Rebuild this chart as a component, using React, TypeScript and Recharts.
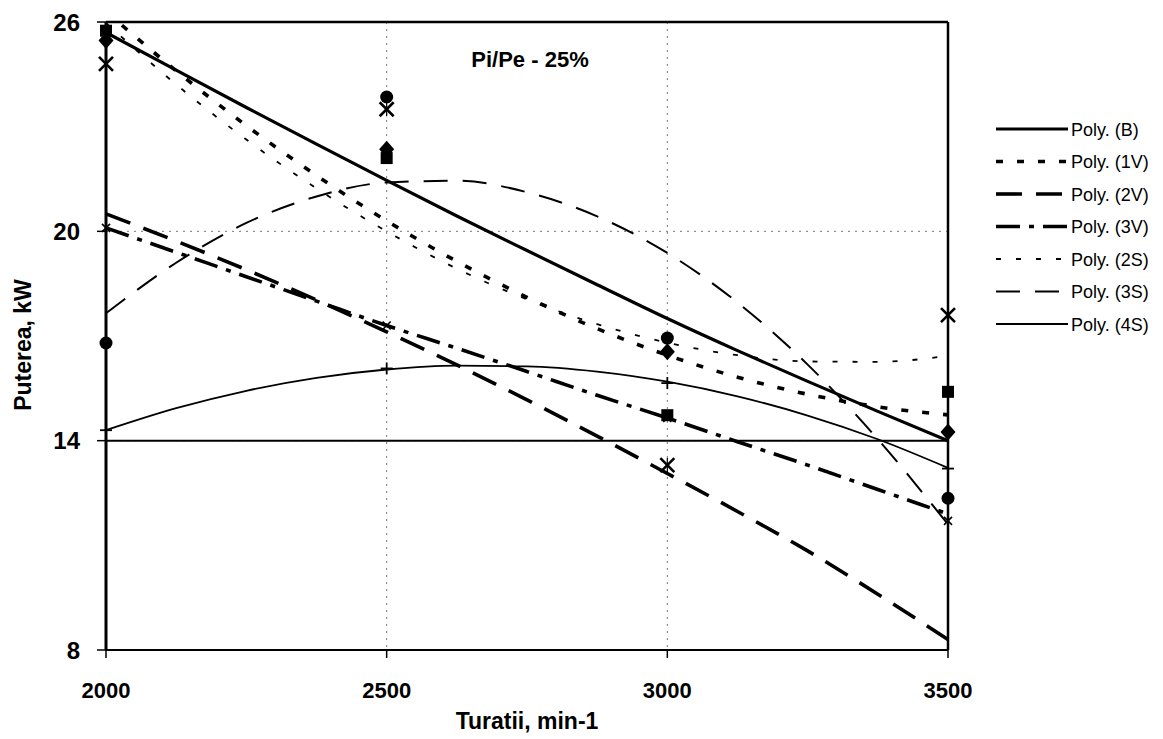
import { CartesianGrid, ComposedChart, Line, ReferenceLine, Scatter, XAxis, YAxis } from "recharts";

// trendline readings every 125 rpm
const rpm = [2000, 2125, 2250, 2375, 2500, 2625, 2750, 2875, 3000, 3125, 3250, 3375, 3500];
const polyB = [25.7, 24.62, 23.55, 22.5, 21.46, 20.44, 19.45, 18.47, 17.5, 16.58, 15.7, 14.84, 14.0];
const poly1V = [26.3, 24.6, 23.03, 21.6, 20.3, 19.14, 18.11, 17.21, 16.45, 15.82, 15.33, 14.97, 14.74];
const poly2V = [20.5, 19.72, 18.9, 18.03, 17.12, 16.17, 15.17, 14.13, 13.06, 11.97, 10.84, 9.6, 8.3];
const poly3V = [20.1, 19.4, 18.7, 18.0, 17.3, 16.65, 15.98, 15.3, 14.65, 13.97, 13.3, 12.6, 11.9];
const poly2S = [25.97, 24.21, 22.63, 21.23, 20.0, 18.93, 18.05, 17.34, 16.81, 16.45, 16.27, 16.26, 16.43];
const poly3S = [17.65, 19.1, 20.24, 21.0, 21.4, 21.45, 21.12, 20.43, 19.38, 17.96, 16.18, 14.04, 11.6];
const poly4S = [14.3, 14.93, 15.43, 15.8, 16.04, 16.15, 16.13, 15.98, 15.69, 15.27, 14.72, 14.04, 13.22];

// measured points
const pointRpm = [2000, 2500, 3000, 3500];
const ptsB = [25.47, 22.35, 16.55, 14.25];
const pts1V = [25.75, 22.1, 14.73, 15.4];
const pts3V = [20.1, 17.3, 14.65, 11.7];
const pts2S = [24.8, 23.5, 13.3, 17.6];
const pts3S = [16.8, 23.85, 16.94, 12.35];
const pts4S = [14.3, 16.07, 15.65, 13.2];

const xTicks = [2000, 2500, 3000, 3500];
const yTicks = [8, 14, 20, 26];
const names = ["B", "1V", "2V", "3V", "2S", "3S", "4S"];
const title = "Pi/Pe - 25%";
const xTitle = "Turatii, min-1";
const yTitle = "Puterea, kW";

const FONT = "'Liberation Sans', Arial, Helvetica, sans-serif";

const lineStyle: Record<string, { width: number; dash?: string }> = {
  B: { width: 3.2 },
  "1V": { width: 3.6, dash: "7 14" },
  "2V": { width: 3.6, dash: "26 14" },
  "3V": { width: 3.6, dash: "24 9 5 9" },
  "2S": { width: 1.8, dash: "5 15" },
  "3S": { width: 2, dash: "24 15" },
  "4S": { width: 1.8 },
};

const rows = rpm.map((r, i) => ({
  rpm: r,
  B: polyB[i],
  "1V": poly1V[i],
  "2V": poly2V[i],
  "3V": poly3V[i],
  "2S": poly2S[i],
  "3S": poly3S[i],
  "4S": poly4S[i],
}));

const toPts = (vals: number[]) => pointRpm.map((r, i) => ({ rpm: r, v: vals[i] }));

type Kind = "diamond" | "square" | "x" | "star" | "circle" | "plus";

function Marker({ cx, cy, kind }: { cx?: number; cy?: number; kind: Kind }) {
  if (cx == null || cy == null) return <g />;
  switch (kind) {
    case "diamond":
      return <polygon points={`${cx},${cy - 8.5} ${cx + 7.5},${cy} ${cx},${cy + 8.5} ${cx - 7.5},${cy}`} fill="#000" />;
    case "square":
      return <rect x={cx - 6} y={cy - 6} width={12} height={12} fill="#000" />;
    case "circle":
      return <circle cx={cx} cy={cy} r={6.5} fill="#000" />;
    case "x":
      return (
        <g stroke="#000" strokeWidth={1.6}>
          <line x1={cx - 4} y1={cy - 4} x2={cx + 4} y2={cy + 4} />
          <line x1={cx - 4} y1={cy + 4} x2={cx + 4} y2={cy - 4} />
        </g>
      );
    case "star":
      return (
        <g stroke="#000" strokeWidth={2.6}>
          <line x1={cx - 7} y1={cy - 7} x2={cx + 7} y2={cy + 7} />
          <line x1={cx - 7} y1={cy + 7} x2={cx + 7} y2={cy - 7} />
          <line x1={cx} y1={cy - 7} x2={cx} y2={cy + 7} strokeWidth={1.2} />
        </g>
      );
    default:
      return (
        <g stroke="#000" strokeWidth={1.8}>
          <line x1={cx - 6} y1={cy} x2={cx + 6} y2={cy} />
          <line x1={cx} y1={cy - 6} x2={cx} y2={cy + 6} />
        </g>
      );
  }
}

const markerSets: { key: string; vals: number[]; kind: Kind }[] = [
  { key: "mB", vals: ptsB, kind: "diamond" },
  { key: "m1V", vals: pts1V, kind: "square" },
  { key: "m3V", vals: pts3V, kind: "x" },
  { key: "m2S", vals: pts2S, kind: "star" },
  { key: "m3S", vals: pts3S, kind: "circle" },
  { key: "m4S", vals: pts4S, kind: "plus" },
];

export default function App() {
  return (
    <div style={{ position: "absolute", left: 0, top: 0, width: 1163, height: 739, background: "#fff" }}>
      <ComposedChart width={1163} height={739} data={rows} margin={{ top: 22, right: 215, bottom: 29, left: 26 }}>
        <CartesianGrid stroke="#777" strokeDasharray="2 5" />
        <XAxis
          dataKey="rpm"
          type="number"
          domain={[2000, 3500]}
          ticks={xTicks}
          height={60}
          tickSize={8}
          tickMargin={24}
          axisLine={{ stroke: "#000", strokeWidth: 2 }}
          tickLine={{ stroke: "#000", strokeWidth: 1.5 }}
          tick={{ fill: "#000", fontSize: 22, fontWeight: 700, fontFamily: FONT }}
        />
        <YAxis
          type="number"
          domain={[8, 26]}
          ticks={yTicks}
          allowDataOverflow
          width={80}
          tickSize={9}
          tickMargin={17}
          axisLine={{ stroke: "#000", strokeWidth: 3 }}
          tickLine={{ stroke: "#000", strokeWidth: 1.5 }}
          tick={{ fill: "#000", fontSize: 24, fontWeight: 700, fontFamily: FONT }}
        />
        <ReferenceLine y={14} stroke="#000" strokeWidth={2} />
        <ReferenceLine y={26} stroke="#000" strokeWidth={2.5} />
        <ReferenceLine x={3500} stroke="#000" strokeWidth={2.5} />
        {names.map((n) => (
          <Line
            key={n}
            dataKey={n}
            type="monotone"
            stroke="#000"
            strokeWidth={lineStyle[n].width}
            strokeDasharray={lineStyle[n].dash}
            dot={false}
            activeDot={false}
            isAnimationActive={false}
          />
        ))}
        {markerSets.map((m) => (
          <Scatter
            key={m.key}
            data={toPts(m.vals)}
            dataKey="v"
            isAnimationActive={false}
            shape={(p: any) => <Marker cx={p.cx} cy={p.cy} kind={m.kind} />}
          />
        ))}
      </ComposedChart>
      <svg width={1163} height={739} style={{ position: "absolute", left: 0, top: 0, pointerEvents: "none" }}>
        <text x={530} y={67} textAnchor="middle" fontFamily={FONT} fontWeight={700} fontSize={22} fill="#000">
          {title}
        </text>
        <text x={527} y={729} textAnchor="middle" fontFamily={FONT} fontWeight={700} fontSize={23} fill="#000">
          {xTitle}
        </text>
        <text
          transform="translate(31,345) rotate(-90)"
          textAnchor="middle"
          fontFamily={FONT}
          fontWeight={700}
          fontSize={23}
          fill="#000"
        >
          {yTitle}
        </text>
        {names.map((n, i) => {
          const y = 129 + i * 32.5;
          return (
            <g key={n}>
              <line
                x1={996}
                x2={1068}
                y1={y}
                y2={y}
                stroke="#000"
                strokeWidth={lineStyle[n].width}
                strokeDasharray={lineStyle[n].dash}
              />
              <text x={1071} y={y + 6.5} fontFamily={FONT} fontSize={18} fill="#000">
                {`Poly. (${n})`}
              </text>
            </g>
          );
        })}
      </svg>
    </div>
  );
}
